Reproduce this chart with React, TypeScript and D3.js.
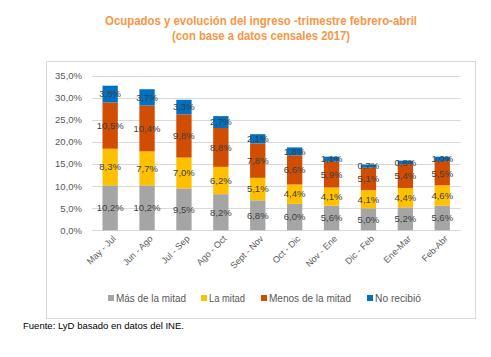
import React from "react";
import * as d3 from "d3";

const categories = ["May - Jul", "Jun - Ago", "Jul - Sep", "Ago - Oct", "Sept - Nov", "Oct - Dic", "Nov - Ene", "Dic - Feb", "Ene-Mar", "Feb-Abr"];
const masMitad = [10.2, 10.2, 9.5, 8.2, 6.8, 6.0, 5.6, 5.0, 5.2, 5.6];
const laMitad = [8.3, 7.7, 7.0, 6.2, 5.1, 4.4, 4.1, 4.1, 4.4, 4.6];
const menosMitad = [10.5, 10.4, 9.8, 8.8, 7.8, 6.6, 5.9, 5.1, 5.4, 5.5];
const noRecibio = [3.8, 3.7, 3.3, 2.7, 2.1, 1.8, 1.1, 0.7, 0.8, 1.0];
const seriesNames = ["Más de la mitad", "La mitad", "Menos de la mitad", "No recibió"];
const yTicks = [0, 5, 10, 15, 20, 25, 30, 35];

const colors = ["#A5A5A5", "#FFC000", "#D14D02", "#0070C0"];
const FONT = "'Liberation Sans', Arial, sans-serif";

export default function App() {
  const W = 491, H = 357;
  const x0 = 91.7, x1 = 460.7, yTop = 76, yBot = 230.3;
  const x = d3.scaleBand().domain(categories).range([x0, x1]).paddingInner(0.585).paddingOuter(0.2925);
  const y = d3.scaleLinear().domain([0, 35]).range([yBot, yTop]);
  const data = categories.map((c, i) => ({ cat: c, s0: masMitad[i], s1: laMitad[i], s2: menosMitad[i], s3: noRecibio[i] }));
  const stack = d3.stack<any>().keys(["s0", "s1", "s2", "s3"])(data);
  const fmt = (v: number) => v.toFixed(1).replace(".", ",") + "%";
  const legendX = [108, 201, 261, 367];
  const legendW = [70, 36, 82, 46];

  return (
    <svg width={W} height={H} style={{ position: "absolute", left: 0, top: 0, background: "#fff" }} fontFamily={FONT}>
      <rect x={0} y={0} width={W} height={H} fill="#fff" />
      <text x={261} y={25} textAnchor="middle" fontSize={12.5} fontWeight="bold" fill="#F79646" textLength={312} lengthAdjust="spacingAndGlyphs">Ocupados y evolución del ingreso -trimestre febrero-abril</text>
      <text x={261} y={40} textAnchor="middle" fontSize={12.5} fontWeight="bold" fill="#F79646" textLength={178} lengthAdjust="spacingAndGlyphs">(con base a datos censales 2017)</text>
      <rect x={46.5} y={61.5} width={429} height={257} fill="none" stroke="#D9D9D9" strokeWidth={1} />
      {yTicks.map(t => (
        <g key={t}>
          <line x1={x0} x2={x1} y1={Math.round(y(t)) + 0.5} y2={Math.round(y(t)) + 0.5} stroke="#D9D9D9" strokeWidth={1} />
          <text x={82} y={y(t)} dy="0.35em" textAnchor="end" fontSize={9.5} fill="#595959">{fmt(t)}</text>
        </g>
      ))}
      {stack.map((layer, si) => (
        <g key={si}>
          {layer.map((d, i) => (
            <rect key={i} x={x(categories[i])} width={x.bandwidth()} y={y(d[1])} height={y(d[0]) - y(d[1])} fill={colors[si]} />
          ))}
        </g>
      ))}
      {stack.map((layer, si) => (
        <g key={"l" + si}>
          {layer.map((d, i) => (
            <text key={i} x={(x(categories[i]) as number) + x.bandwidth() / 2} y={y((d[0] + d[1]) / 2)} dy="0.35em" textAnchor="middle" fontSize={9.5} fill="#404040">
              {fmt(d[1] - d[0])}
            </text>
          ))}
        </g>
      ))}
      {categories.map(c => (
        <text key={c} transform={`translate(${(x(c) as number) + x.bandwidth() / 2 + 4},${237}) rotate(-45)`} textAnchor="end" fontSize={9} fill="#595959" dy="0.35em">{c}</text>
      ))}
      {seriesNames.map((n, i) => (
        <g key={n}>
          <rect x={legendX[i]} y={295} width={6} height={6} fill={colors[i]} />
          <text x={legendX[i] + 8} y={298} dy="0.35em" fontSize={10} fill="#595959" textLength={legendW[i]} lengthAdjust="spacingAndGlyphs">{n}</text>
        </g>
      ))}
      <text x={23} y={329} fontSize={9.3} fill="#000" textLength={161} lengthAdjust="spacingAndGlyphs">Fuente: LyD basado en datos del INE.</text>
    </svg>
  );
}
